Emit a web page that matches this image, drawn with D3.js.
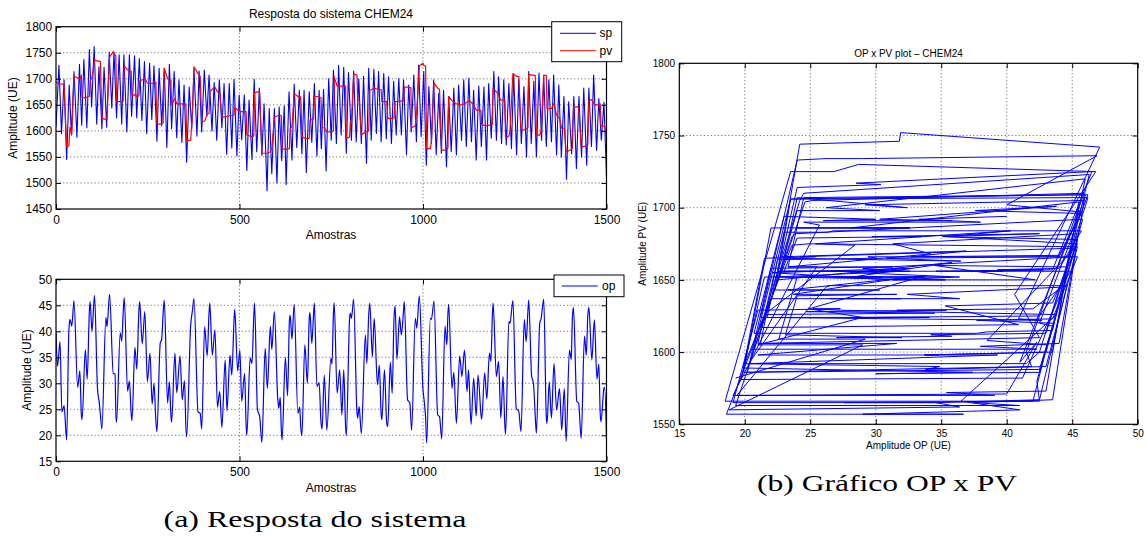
<!DOCTYPE html>
<html><head><meta charset="utf-8">
<script src="https://cdn.jsdelivr.net/npm/d3@7"></script>
<style>
html,body{margin:0;padding:0;background:#fff;}
svg{display:block;}
</style></head><body>
<svg id="chart" width="1146" height="544"></svg>
<script>
// ---- DATA ----
// shared time base for op and pv (sample index of each read point)
const sampleIdx = [
0,4,11,16,22,29,35,38,43,49,
59,65,69,71,80,85,91,93,98,105,
113,118,121,125,136,139,146,156,161,163,
165,175,179,183,186,195,200,205,207,215,
220,226,228,235,242,249,256,262,267,272,
275,284,288,292,295,304,309,313,315,324,
329,338,344,350,354,356,367,372,376,387,
393,397,405,412,417,419,426,433,440,446,452,
461,466,474,479,485,487,495,501,506,514,518,
520,529,534,539,541,549,555,561,570,576,
584,588,595,604,607,611,614,616,625,631,
636,638,643,649,659,664,667,670,678,685,690,692,
697,702,704,711,717,722,725,731,738,749,752,756,
758,766,773,779,784,789,791,800,802,805,811,
820,822,826,832,843,847,852,855,862,867,876,
881,886,888,895,901,904,911,916,921,924,929,
936,941,947,949,958,964,967,969,979,983,990,
1000,1003,1007,1010,1020,1023,1030,1040,1045,1051,
1060,1065,1068,1070,1079,1084,1091,1100,1106,1113,1120,
1124,1131,1138,1145,1150,1158,1160,1168,1174,1181,1185,
1189,1191,1200,1206,1212,1218,1223,1225,1234,1237,1245,
1254,1261,1267,1276,1281,1286,1288,1296,1301,1306,1309,
1318,1322,1329,1336,1338,1344,1350,1357,1364,1372,1378,
1385,1390,1399,1404,1407,1410,1419,1424,1431,1440,1445,1449,
1452,1460,1467,1474,1479,1483,1485,1493,1495,1500];

const opValues = [
40,33.3,38,24.5,25.7,19.1,40,42.3,41,45.9,
29.2,32.4,24,23,36.5,30.8,44,45.7,40,46.9,
29,26.2,24,21.2,42.7,40.9,47.1,31.9,31.8,24.2,
22.5,39.7,38.1,43.5,46.5,28.5,30.4,24,22.8,36.9,
32.7,44,45.7,37.6,43.8,30.3,35.8,26,30,23,
20.7,37.7,38.5,43.5,46,26.2,30.3,24,22.5,35.8,
28.2,35.3,26.8,30.5,21.5,19.7,41.2,44.1,46.3,24.5,
24.2,21.2,40.9,35.3,43.5,45.4,35.4,40.3,25.4,28.4,21.5,
34.5,24.7,35.4,31.6,42,44.2,32.4,36.4,26.5,31.9,22,
20,34.9,33.8,43,45.4,24.9,23.6,18.6,36.7,29,
41,36.5,43.8,27.3,25.2,27.3,21,19.1,35,27.6,
42,43.1,38.5,45.2,24.2,25.4,21.5,19.9,37.4,30,42.5,43.6,
37.7,43.5,45.4,29.4,30.1,22.5,21.2,31.6,21,34.8,33.7,43.5,
45.5,28.1,32.6,23.9,32.6,22,19.9,42.5,43.5,42.5,46.2,
24.5,23.3,25.5,20.3,39.3,33.8,43,45.4,35.1,42.5,29.7,
33.5,24,23,32.6,22.5,21.7,34.1,28.1,42.5,44.9,34.6,
42.8,39.3,44,45.7,26.8,26.3,23,21,42.5,40.6,46.8,
28.7,26.8,23.5,18.5,42.5,42.3,45.8,23.9,23.6,19.3,
41,37.4,43.5,45.2,29,32.1,22.3,35.3,31.3,36.4,28.4,
32.6,22.1,31,23.7,31.6,24,23.1,32,27,35.8,34.2,
43,45.4,31.3,34.2,23.3,31.3,22,20.2,41.9,41.5,45.9,
25.2,24.6,20.7,42.3,38,44,46,31.4,30,23.5,20.4,
41.5,42.5,46.2,23.5,22.3,30.3,23.3,33.8,24.9,29,21,
29,18.8,36.4,34.6,42.5,44.6,26.5,26.2,19.4,39.1,35.4,43,
44.6,34.5,42.2,30.8,33.7,24,22.6,29,29.2,19.3];

const pvValues = [
1694,1692,1690,1690,1688,1570,1571,1607,1593,1705,
1702,1700,1707,1665,1663,1665,1666,1697,1702,1736,
1734,1734,1733,1624,1622,1623,1742,1752,1746,1744,
1656,1656,1656,1657,1725,1717,1716,1714,1666,1670,
1666,1667,1696,1698,1701,1692,1691,1691,1692,1694,
1613,1613,1614,1615,1720,1700,1698,1698,1650,1662,
1652,1652,1652,1652,1652,1581,1582,1640,1723,1710,
1705,1617,1619,1632,1634,1675,1680,1684,1675,1674,1626,
1627,1628,1629,1629,1630,1645,1640,1637,1637,1637,1637,
1592,1590,1588,1590,1673,1675,1674,1557,1557,1557,
1560,1566,1626,1629,1630,1630,1629,1565,1565,1565,
1566,1605,1608,1672,1666,1666,1665,1589,1586,1585,1586,1620,
1622,1623,1666,1666,1665,1664,1606,1606,1598,1598,1598,1600,
1704,1686,1686,1686,1686,1686,1586,1588,1618,1620,1709,
1707,1659,1659,1592,1598,1598,1600,1678,1680,1682,1680,
1680,1679,1656,1656,1656,1624,1624,1624,1625,1656,1656,
1657,1657,1658,1684,1684,1683,1683,1606,1610,1640,1725,
1730,1725,1725,1566,1566,1580,1692,1682,1680,1563,
1563,1565,1567,1666,1658,1656,1652,1650,1650,1652,1655,
1658,1655,1650,1640,1640,1639,1612,1610,1610,1611,1612,
1613,1682,1675,1668,1659,1659,1658,1586,1590,1600,1710,
1705,1704,1602,1602,1604,1606,1709,1707,1707,1706,1592,
1592,1600,1707,1706,1643,1643,1643,1653,1630,1624,1605,
1605,1560,1562,1565,1567,1646,1646,1645,1570,1570,1572,1573,
1659,1660,1650,1650,1652,1652,1609,1609,1609,1582];

// set point: sample index and value of each peak / trough
const spSamples = [
0,8,15,22,29,36,42,49,57,64,
70,76,84,91,97,104,111,117,125,131,
138,145,152,158,165,172,179,185,193,200,
206,214,220,227,234,241,247,255,261,267,
275,281,288,295,302,309,315,322,329,335,
343,349,356,363,370,376,384,390,397,404,
411,417,425,431,438,445,452,458,465,472,
479,485,493,499,506,513,520,526,534,540,
547,554,561,567,575,581,588,595,602,608,
615,622,627,635,643,649,656,663,670,676,
682,690,697,704,711,717,
723,729,736,743,750,756,764,770,777,784,
791,797,805,811,818,825,832,838,846,852,
859,866,873,879,886,893,900,906,914,920,
927,934,941,947,955,961,968,975,982,988,
995,1002,1009,1016,1023,1029,1036,1043,1050,1056,
1064,1070,1077,1084,1091,1097,1105,1111,1118,1125,
1132,1138,1145,1152,1159,1166,1173,1179,1186,1193,
1200,1206,1214,1220,1227,1234,1241,1247,1255,1261,
1268,1275,1282,1288,1295,1302,1309,1316,1323,1329,
1336,1343,1350,1356,1364,1370,1377,1384,1391,1397,
1405,1411,1418,1425,1432,1438,1446,1452,1459,1465,
1473,1479,1486,1493,1500];

const spValues = [
1608,1726,1595,1698,1545,1688,1592,1714,1588,1728,
1611,1737,1606,1756,1646,1762,1613,1723,1604,1722,
1607,1751,1644,1751,1625,1746,1613,1746,1598,1746,
1628,1744,1625,1739,1620,1733,1595,1730,1622,1725,
1580,1720,1610,1720,1568,1728,1604,1714,1587,1698,
1578,1688,1540,1684,1604,1718,1590,1715,1598,1717,
1628,1707,1600,1693,1582,1698,1606,1691,1555,1691,
1567,1699,1552,1669,1583,1669,1524,1659,1545,1699,
1560,1682,1553,1652,1485,1643,1518,1643,1500,1646,
1543,1648,1497,1675,1544,1690,1568,1678,1556,1678,
1520,1675,1578,1691,1552,1678,
1566,1680,1523,1700,1582,1717,1576,1726,1592,1722,
1557,1712,1582,1715,1579,1700,1576,1705,1538,1720,
1582,1718,1595,1714,1579,1710,1585,1704,1576,1695,
1592,1700,1592,1698,1554,1688,1598,1707,1579,1726,
1589,1714,1534,1685,1576,1698,1554,1672,1557,1678,
1531,1666,1560,1682,1554,1688,1582,1698,1570,1701,
1579,1678,1544,1686,1570,1684,1544,1691,1586,1714,
1582,1704,1576,1698,1573,1691,1566,1709,1554,1698,
1576,1685,1550,1714,1576,1695,1550,1711,1582,1704,
1570,1698,1579,1707,1554,1688,1550,1666,1507,1656,
1556,1666,1528,1666,1550,1682,1534,1682,1570,1707,
1563,1662,1582,1655,1512];

const timeTicks = [0, 500, 1000, 1500];
const pvTicks = [1450, 1500, 1550, 1600, 1650, 1700, 1750, 1800];
const opTicks = [15, 20, 25, 30, 35, 40, 45, 50];
const phaseXTicks = [15, 20, 25, 30, 35, 40, 45, 50];
const phaseYTicks = [1550, 1600, 1650, 1700, 1750, 1800];

// ---- DRAWING ----
const SANS = '"Liberation Sans", Arial, Helvetica, sans-serif';
const SERIF = '"Liberation Serif", "Times New Roman", serif';
const BLUE = "#0000ff", RED = "#ff0000";
const svg = d3.select("#chart");
svg.append("rect").attr("width", 1146).attr("height", 544).attr("fill", "#fff");

const x1 = d3.scaleLinear().domain([0, 1500]).range([56, 606.5]);
const y1 = d3.scaleLinear().domain([1450, 1800]).range([209, 26.7]);
const x2 = d3.scaleLinear().domain([0, 1500]).range([56, 606.5]);
const y2 = d3.scaleLinear().domain([15, 50]).range([461.3, 279.3]);
const x3 = d3.scaleLinear().domain([15, 50]).range([679.3, 1137.7]);
const y3 = d3.scaleLinear().domain([1550, 1800]).range([424.3, 63.3]);

let clipN = 0;
function grid(x, y, xt, yt) {
  const g = svg.append("g").attr("stroke", "#555").attr("stroke-width", 0.8)
    .attr("stroke-dasharray", "1.2,2.3");
  const [xa, xb] = x.domain(), [ya, yb] = y.domain();
  g.selectAll(null).data(xt.filter(v => v > xa && v < xb)).join("line")
    .attr("x1", d => x(d)).attr("x2", d => x(d))
    .attr("y1", y.range()[0]).attr("y2", y.range()[1]);
  g.selectAll(null).data(yt.filter(v => v > ya && v < yb)).join("line")
    .attr("y1", d => y(d)).attr("y2", d => y(d))
    .attr("x1", x.range()[0]).attr("x2", x.range()[1]);
}
function clipFor(x, y) {
  const id = "clip" + (clipN++);
  svg.append("clipPath").attr("id", id).append("rect")
    .attr("x", x.range()[0]).attr("y", y.range()[1])
    .attr("width", x.range()[1] - x.range()[0]).attr("height", y.range()[0] - y.range()[1]);
  return "url(#" + id + ")";
}
function frame(x, y, xt, yt, fs, padX, padY) {
  const fmt = d3.format("d");
  const style = s => s.attr("font-family", SANS).attr("font-size", fs).attr("color", "#000")
    .call(t => t.select(".domain").remove())
    .call(t => t.selectAll("text").attr("fill", "#000"));
  const yb = y.range()[0], yt0 = y.range()[1], xl = x.range()[0], xr = x.range()[1];
  svg.append("g").attr("transform", `translate(0,${yb})`)
    .call(d3.axisBottom(x).tickValues(xt).tickFormat(fmt).tickSizeInner(-5).tickSizeOuter(0).tickPadding(padX)).call(style);
  svg.append("g").attr("transform", `translate(0,${yt0})`)
    .call(d3.axisTop(x).tickValues(xt).tickFormat("").tickSizeInner(-5).tickSizeOuter(0)).call(style);
  svg.append("g").attr("transform", `translate(${xl},0)`)
    .call(d3.axisLeft(y).tickValues(yt).tickFormat(fmt).tickSizeInner(-5).tickSizeOuter(0).tickPadding(padY)).call(style);
  svg.append("g").attr("transform", `translate(${xr},0)`)
    .call(d3.axisRight(y).tickValues(yt).tickFormat("").tickSizeInner(-5).tickSizeOuter(0)).call(style);
  svg.append("rect").attr("x", xl).attr("y", yt0).attr("width", xr - xl).attr("height", yb - yt0)
    .attr("fill", "none").attr("stroke", "#000").attr("stroke-width", 1.2);
}
function label(txt, x, y, fs, opts = {}) {
  const t = svg.append("text").text(txt).attr("font-family", opts.family || SANS)
    .attr("font-size", fs).attr("fill", "#000").attr("text-anchor", opts.anchor || "middle");
  if (opts.rotate) t.attr("transform", `translate(${x},${y}) rotate(-90)`);
  else t.attr("x", x).attr("y", y);
  if (opts.len) t.attr("textLength", opts.len).attr("lengthAdjust", "spacingAndGlyphs");
  return t;
}
const idx = d3.range(sampleIdx.length);
const spIdx = d3.range(spSamples.length);

// Panel 1: sp / pv
grid(x1, y1, timeTicks, pvTicks);
const c1 = clipFor(x1, y1);
svg.append("path").datum(spIdx).attr("clip-path", c1)
  .attr("d", d3.line().x(i => x1(spSamples[i])).y(i => y1(spValues[i])))
  .attr("fill", "none").attr("stroke", BLUE).attr("stroke-width", 1.1).attr("stroke-linejoin", "round");
svg.append("path").datum(idx).attr("clip-path", c1)
  .attr("d", d3.line().x(i => x1(sampleIdx[i])).y(i => y1(pvValues[i])))
  .attr("fill", "none").attr("stroke", RED).attr("stroke-width", 1.2).attr("stroke-linejoin", "round");
frame(x1, y1, timeTicks, pvTicks, 12, 6.5, 3.8);
label("Resposta do sistema CHEM24", 331, 18, 12);
label("Amostras", 331, 239, 12);
label("Amplitude (UE)", 16.5, 118, 12, {rotate: true});
// legend 1
const lg1 = svg.append("g");
lg1.append("rect").attr("x", 551.7).attr("y", 21.7).attr("width", 70).attr("height", 40)
  .attr("fill", "#fff").attr("stroke", "#000").attr("stroke-width", 1);
[["sp", BLUE, 33.3], ["pv", RED, 50.7]].forEach(([n, c, yy]) => {
  lg1.append("line").attr("x1", 560).attr("x2", 596).attr("y1", yy).attr("y2", yy)
    .attr("stroke", c).attr("stroke-width", 1);
  lg1.append("text").text(n).attr("x", 599.5).attr("y", yy + 4).attr("font-family", SANS)
    .attr("font-size", 12).attr("fill", "#000");
});

// Panel 2: op
grid(x2, y2, timeTicks, opTicks);
const c2 = clipFor(x2, y2);
svg.append("path").datum(idx).attr("clip-path", c2)
  .attr("d", d3.line().x(i => x2(sampleIdx[i])).y(i => y2(opValues[i])).curve(d3.curveMonotoneX))
  .attr("fill", "none").attr("stroke", BLUE).attr("stroke-width", 1.2).attr("stroke-linejoin", "round");
frame(x2, y2, timeTicks, opTicks, 12, 6.3, 3.8);
label("Amostras", 331, 492, 12);
label("Amplitude (UE)", 31, 370, 12, {rotate: true});
const lg2 = svg.append("g");
lg2.append("rect").attr("x", 554).attr("y", 275).attr("width", 70).attr("height", 21.7)
  .attr("fill", "#fff").attr("stroke", "#000").attr("stroke-width", 1);
lg2.append("line").attr("x1", 561.7).attr("x2", 597.7).attr("y1", 286).attr("y2", 286)
  .attr("stroke", BLUE).attr("stroke-width", 1);
lg2.append("text").text("op").attr("x", 602).attr("y", 290).attr("font-family", SANS)
  .attr("font-size", 12).attr("fill", "#000");

// Panel 3: OP x PV
grid(x3, y3, phaseXTicks, phaseYTicks);
const c3 = clipFor(x3, y3);
svg.append("path").datum(idx).attr("clip-path", c3)
  .attr("d", d3.line().x(i => x3(opValues[i])).y(i => y3(pvValues[i])))
  .attr("fill", "none").attr("stroke", BLUE).attr("stroke-width", 1).attr("stroke-linejoin", "round");
frame(x3, y3, phaseXTicks, phaseYTicks, 10, 6, 4.3);
label("OP x PV plot \u2013 CHEM24", 908.5, 56.5, 10);
label("Amplitude OP (UE)", 908.5, 449, 10);
label("Amplitude PV (UE)", 646, 243.8, 10, {rotate: true});

// captions
label("(a) Resposta do sistema", 315, 527, 24, {family: SERIF, len: 303});
label("(b) Gr\u00e1fico OP x PV", 887, 491, 24, {family: SERIF, len: 260});
</script>
</body></html>
